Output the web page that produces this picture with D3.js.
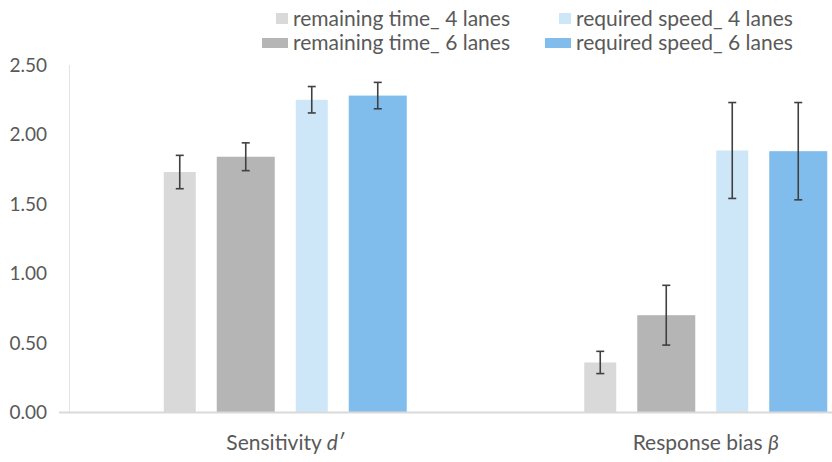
<!DOCTYPE html>
<html>
<head>
<meta charset="utf-8">
<script src="https://cdn.jsdelivr.net/npm/d3@7"></script>
<style>
  body { margin: 0; background: #fff; }
  text { font-family: Lato, "Open Sans", sans-serif; fill: #595959; }
</style>
</head>
<body>
<script>
var categories = ["Sensitivity", "Response bias"];
var categorySymbols = ["d\u2032", "\u03b2"];
var seriesNames = ["remaining time_ 4 lanes", "remaining time_ 6 lanes",
                   "required speed_ 4 lanes", "required speed_ 6 lanes"];
// values[series][category]
var values = [
    [1.73, 0.36],
    [1.84, 0.70],
    [2.25, 1.885],
    [2.28, 1.88]
];
var errors = [
    [0.12, 0.08],
    [0.10, 0.215],
    [0.095, 0.345],
    [0.095, 0.35]
];
var yTicks = [0, 0.5, 1, 1.5, 2, 2.5];

var _width = 832, _height = 462;
var colors = ["#d9d9d9", "#b5b5b5", "#cde6f8", "#80bdec"];
var barWidths = [32, 58, 32, 58];
var barGap = 21;

var svg = d3.select("body").append("svg")
    .attr("width", _width)
    .attr("height", _height);

var y = d3.scaleLinear().domain([0, 2.5]).range([412.5, 65]);
var x = d3.scaleBand().domain(categories).range([75, 916]);

// offsets of each series inside a group
var offsets = [];
var acc = 0;
barWidths.forEach(function (w) { offsets.push(acc); acc += w + barGap; });
var groupWidth = acc - barGap;

function barX(ci, si) {
    return x(categories[ci]) + x.bandwidth() / 2 - groupWidth / 2 + offsets[si];
}

// y axis line
svg.append("line")
    .attr("x1", 69.5).attr("x2", 69.5)
    .attr("y1", y(2.5)).attr("y2", y(0))
    .attr("stroke", "#e4e4e4").attr("stroke-width", 1);

// y labels
svg.append("g").selectAll("text")
    .data(yTicks)
    .enter().append("text")
    .attr("x", 47)
    .attr("y", function (d) { return y(d); })
    .attr("dy", "0.35em")
    .attr("text-anchor", "end")
    .attr("font-size", 19)
    .text(function (d) { return d3.format(".2f")(d); });

// bars
var bars = [];
values.forEach(function (row, si) {
    row.forEach(function (v, ci) {
        bars.push({si: si, ci: ci, v: v, e: errors[si][ci]});
    });
});

svg.append("g").selectAll("rect")
    .data(bars)
    .enter().append("rect")
    .attr("x", function (d) { return barX(d.ci, d.si); })
    .attr("width", function (d) { return barWidths[d.si]; })
    .attr("y", function (d) { return y(d.v); })
    .attr("height", function (d) { return y(0) - y(d.v); })
    .attr("fill", function (d) { return colors[d.si]; });

svg.append("line")
    .attr("x1", 59).attr("x2", _width)
    .attr("y1", y(0)).attr("y2", y(0))
    .attr("stroke", "#d9d9d9").attr("stroke-width", 2);

// error bars
var eb = svg.append("g").attr("stroke", "#404040").attr("stroke-width", 1.6);
bars.forEach(function (d) {
    var cx = barX(d.ci, d.si) + barWidths[d.si] / 2;
    var top = y(d.v + d.e), bot = y(d.v - d.e);
    eb.append("line").attr("x1", cx).attr("x2", cx).attr("y1", top).attr("y2", bot);
    eb.append("line").attr("x1", cx - 4).attr("x2", cx + 4).attr("y1", top).attr("y2", top);
    eb.append("line").attr("x1", cx - 4).attr("x2", cx + 4).attr("y1", bot).attr("y2", bot);
});

// category labels
var cl = svg.append("g").selectAll("text")
    .data(categories)
    .enter().append("text")
    .attr("x", function (d) { return x(d) + x.bandwidth() / 2; })
    .attr("y", 443)
    .attr("dy", "0.35em")
    .attr("text-anchor", "middle")
    .attr("font-size", 21);
cl.append("tspan").text(function (d) { return d + " "; });
cl.append("tspan").attr("font-style", "italic")
    .text(function (d, i) { return categorySymbols[i]; });

// legend
var legendPos = [
    {x: 293, y: 18.5, sw: 12, sh: 11},
    {x: 293, y: 43, sw: 26, sh: 10},
    {x: 576, y: 18.5, sw: 12, sh: 11},
    {x: 576, y: 43, sw: 26, sh: 10}
];
var lg = svg.append("g").selectAll("g")
    .data(seriesNames)
    .enter().append("g");
lg.append("rect")
    .attr("x", function (d, i) { return legendPos[i].x - 5 - legendPos[i].sw; })
    .attr("y", function (d, i) { return legendPos[i].y - legendPos[i].sh / 2; })
    .attr("width", function (d, i) { return legendPos[i].sw; })
    .attr("height", function (d, i) { return legendPos[i].sh; })
    .attr("fill", function (d, i) { return colors[i]; });
lg.append("text")
    .attr("x", function (d, i) { return legendPos[i].x; })
    .attr("y", function (d, i) { return legendPos[i].y; })
    .attr("dy", "0.35em")
    .attr("font-size", 21)
    .text(function (d) { return d; });
</script>
</body>
</html>
